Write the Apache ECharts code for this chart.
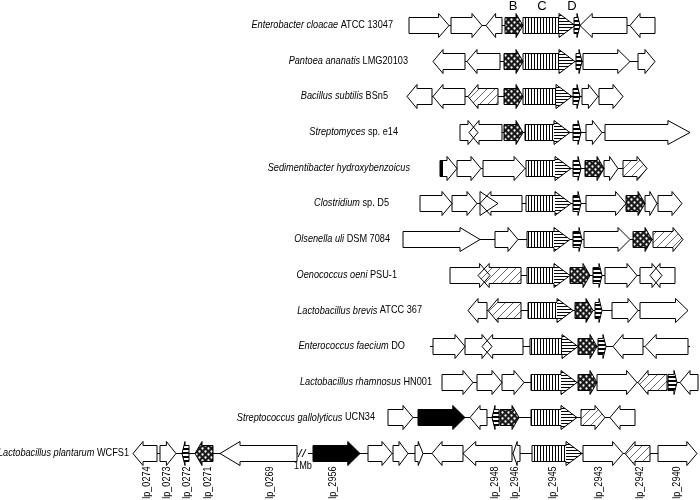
<!DOCTYPE html>
<html><head><meta charset="utf-8">
<script src="https://cdn.jsdelivr.net/npm/echarts@6/dist/echarts.min.js"></script>
<style>html,body{margin:0;padding:0;background:#fff}#c{width:700px;height:500px}</style>
</head><body><div id="c"></div>
<script>
// ---------- DATA ----------
const speciesItalic = ['Enterobacter cloacae','Pantoea ananatis','Bacillus subtilis','Streptomyces','Sedimentibacter hydroxybenzoicus','Clostridium','Olsenella uli','Oenococcus oeni','Lactobacillus brevis','Enterococcus faecium','Lactobacillus rhamnosus','Streptococcus gallolyticus','Lactobacillus plantarum'];
const speciesStrain = ['ATCC 13047','LMG20103','BSn5','sp. e14','','sp. D5','DSM 7084','PSU-1','ATCC 367','DO','HN001','UCN34','WCFS1'];
// genes per row: [start, end, direction (1 right / -1 left), kind]
// kinds: w white, B dotted, C striped, D small banded, H hatched, K black, E white with bar, T white triangle
const row0 = [[409,449,1,'w'],[451,482,1,'w'],[486,502,-1,'w'],[505,523,1,'B'],[523,575,1,'C'],[574,580,1,'D'],[580,627,-1,'w'],[630,655,-1,'w']];
const row1 = [[433,465,-1,'w'],[467,500,-1,'w'],[504,523,1,'B'],[523,575,1,'C'],[576,582,1,'D'],[583,630,1,'w'],[638,655,1,'w']];
const row2 = [[407,432,-1,'w'],[433,465,-1,'w'],[468,498,-1,'H'],[504,523,1,'B'],[523,572,1,'C'],[573,580,1,'D'],[582,598,1,'w'],[599,623,1,'w']];
const row3 = [[460,478,1,'w'],[469,502,-1,'w'],[504,523,1,'B'],[525,570,1,'C'],[573,581,1,'D'],[586,602,1,'w'],[605,690,1,'w']];
const row4 = [[440,457,1,'E'],[457,481,1,'w'],[483,525,1,'w'],[526,571,1,'C'],[573,581,1,'D'],[585,604,1,'B'],[604,618,1,'w'],[623,647,1,'H']];
const row5 = [[420,452,1,'w'],[452,477,1,'w'],[480,498,1,'T'],[480,522,-1,'w'],[526,571,1,'C'],[573,581,1,'D'],[586,626,1,'w'],[626,645,1,'B'],[645,657,1,'w'],[658,682,1,'w']];
const row6 = [[403,480,1,'w'],[495,518,1,'w'],[527,570,1,'C'],[573,582,1,'D'],[584,630,1,'w'],[633,652,1,'B'],[653,683,1,'H']];
const row7 = [[450,490,1,'w'],[478,521,-1,'H'],[527,570,1,'C'],[570,590,1,'B'],[593,602,1,'D'],[605,637,1,'w'],[640,662,1,'w'],[650,675,-1,'w']];
const row8 = [[468,487,-1,'w'],[488,521,-1,'H'],[528,573,1,'C'],[575,593,1,'B'],[595,602,1,'D'],[612,638,1,'w'],[640,688,1,'w']];
const row9 = [[433,465,1,'w'],[465,492,1,'w'],[482,523,-1,'w'],[530,578,1,'C'],[578,597,1,'B'],[598,606,1,'D'],[613,643,-1,'w'],[645,688,-1,'w']];
const row10 = [[442,473,1,'w'],[477,502,1,'w'],[502,524,1,'w'],[531,577,1,'C'],[578,597,1,'B'],[597,637,1,'w'],[638,667,-1,'H'],[668,677,1,'D'],[680,698,-1,'w']];
const row11 = [[388,413,1,'w'],[418,465,1,'K'],[470,487,-1,'w'],[492,499,-1,'D'],[500,519,1,'B'],[531,577,1,'C'],[581,605,1,'H'],[610,635,-1,'w']];
const row12 = [[133,157,-1,'w'],[160,176,1,'w'],[182,189,-1,'D'],[195,213,-1,'B'],[220,297,-1,'w'],[313,360,1,'K'],[368,392,1,'w'],[393,408,1,'w'],[415,423,1,'w'],[432,463,-1,'w'],[463,512,-1,'w'],[513,520,-1,'w'],[532,582,1,'C'],[583,623,1,'w'],[625,650,-1,'H'],[658,697,1,'w']];
const rows = [row0,row1,row2,row3,row4,row5,row6,row7,row8,row9,row10,row11,row12];
// chromosome backbone segments: [row, start, end]
const backbone = [[0,409,655],[1,433,655],[2,407,623],[3,460,690],[4,440,647],[5,420,682],[6,403,683],[7,450,675],[8,468,688],[9,430,690],[10,442,698],[11,388,635],[12,133,298],[12,308,697]];
const locusTags = ['lp_0274','lp_0273','lp_0272','lp_0271','lp_0269','lp_2956','lp_2948','lp_2946','lp_2945','lp_2943','lp_2942','lp_2940'];
const locusPos = [147,167,187,208,270,333,495,515,553,599,640,677];
const domainLetters = ['B','C','D'];
const domainPos = [513,542,572];
const breakRow = 12, breakPos = 303, breakLabel = '1Mb';
// layout: right end of each species label (axis units)
const labelEnd = [393,408,388,398,410,389,390,397,422,405,432,375,129];

// ---------- PATTERNS ----------
function mk(w,h,draw){const c=document.createElement('canvas');c.width=w;c.height=h;const g=c.getContext('2d');draw(g);return {image:c,repeat:'repeat'};}
const patB = mk(6,6,g=>{g.fillStyle='#1a1a1a';g.fillRect(0,0,6,6);g.fillStyle='#fff';g.beginPath();g.arc(1.5,1.5,1.15,0,7);g.fill();g.beginPath();g.arc(4.5,4.5,1.15,0,7);g.fill();});
const patV = mk(3,3,g=>{g.fillStyle='#fff';g.fillRect(0,0,3,3);g.fillStyle='#000';g.fillRect(0,0,1,3);});
const patHz = mk(3,3,g=>{g.fillStyle='#fff';g.fillRect(0,0,3,3);g.fillStyle='#000';g.fillRect(0,0,3,1);});
const patD = mk(4,4,g=>{g.fillStyle='#fff';g.fillRect(0,0,4,4);g.fillStyle='#000';g.fillRect(0,0,4,2);});
const patH = mk(8,8,g=>{g.fillStyle='#fff';g.fillRect(0,0,8,8);g.strokeStyle='#6a6a6a';g.lineWidth=1;g.beginPath();g.moveTo(-1,9);g.lineTo(9,-1);g.moveTo(-1,1);g.lineTo(1,-1);g.moveTo(7,9);g.lineTo(9,7);g.stroke();});
const fills = {w:'#fff',K:'#000',B:patB,C:patV,D:patD,H:patH,E:'#fff',T:'#fff'};

const geneData = [];
rows.forEach((r,ri)=>r.forEach(g=>geneData.push([g[0],g[1],ri,g[2],g[3]])));

const FONT = "'Liberation Sans',Arial,sans-serif";
const NARROW = 0.82;
const FS = 11.2;
const BH = 8, HH = 12;

function headLen(kind,len){
  if(kind==='C') return Math.min(16,len*0.5);
  if(kind==='B') return Math.min(7,len*0.5);
  if(kind==='D') return Math.min(3,len*0.5);
  if(kind==='T') return len;
  return Math.min(len*0.6, Math.max(10, len*0.26));
}
function arrowPts(x0,x1,y,dir,head){
  if(dir>0){const hb=x1-head;return [[x0,y-BH],[hb,y-BH],[hb,y-HH],[x1,y],[hb,y+HH],[hb,y+BH],[x0,y+BH]];}
  const hb=x0+head;return [[x1,y-BH],[hb,y-BH],[hb,y-HH],[x0,y],[hb,y+HH],[hb,y+BH],[x1,y+BH]];
}

const chart = echarts.init(document.getElementById('c'),null,{renderer:'canvas'});
chart.setOption({
  animation:false,
  grid:{left:0,right:0,top:7.2,bottom:29.1},
  xAxis:{type:'value',min:0,max:700,show:false},
  yAxis:{type:'category',inverse:true,show:false,data:speciesItalic.map((s,i)=>s+' '+speciesStrain[i])},
  series:[
    {type:'custom',data:backbone.map(b=>[b[1],b[2],b[0]]),z:1,
     renderItem:(p,api)=>{const a=api.coord([api.value(0),api.value(2)]),b=api.coord([api.value(1),api.value(2)]);
       return {type:'line',shape:{x1:a[0],y1:Math.round(a[1])+0.5,x2:b[0],y2:Math.round(a[1])+0.5},style:{stroke:'#000',lineWidth:1}};}},
    {type:'custom',data:geneData,z:2,
     renderItem:(p,api)=>{
       const g=geneData[p.dataIndex];
       const a=api.coord([g[0],g[2]]),b=api.coord([g[1],g[2]]);
       const y=Math.round(a[1])+0.5,x0=a[0],x1=b[0],dir=g[3],kind=g[4];
       const head=headLen(kind,x1-x0);
       const pts=arrowPts(x0,x1,y,dir,head);
       const ch=[{type:'polygon',z2:0,shape:{points:pts},style:{fill:fills[kind],stroke:null}}];
       if(kind==='C'){
         const hb=dir>0?x1-head:x0+head, tip=dir>0?x1:x0;
         ch.push({type:'polygon',z2:1,shape:{points:[[hb,y-HH],[tip,y],[hb,y+HH]]},style:{fill:patHz,stroke:null}});
       }
       if(kind==='E'){
         ch.push({type:'rect',z2:11,shape:{x:x0,y:y-BH,width:3,height:2*BH},style:{fill:'#000'}});
       }
       ch.push({type:'polygon',z2:10,shape:{points:pts},style:{fill:null,stroke:'#000',lineWidth:1}});
       return {type:'group',children:ch};
     }},
    {type:'custom',data:labelEnd.map((x,i)=>[x,i]),z:3,
     renderItem:(p,api)=>{const i=p.dataIndex;const c=api.coord([labelEnd[i],i]);
       const s=speciesStrain[i];
       return {type:'text',x:c[0],y:c[1],scaleX:NARROW,style:{text:'{i|'+speciesItalic[i]+'}'+(s?' '+s:''),rich:{i:{fontStyle:'italic',fontSize:FS,fontFamily:FONT,fill:'#000'}},fontSize:FS,fontFamily:FONT,fill:'#000',align:'right',verticalAlign:'middle'}};}},
    {type:'custom',data:locusPos.map(x=>[x,breakRow]),z:3,
     renderItem:(p,api)=>{const c=api.coord([locusPos[p.dataIndex],breakRow]);
       return {type:'text',x:c[0],y:c[1]+13.5,rotation:Math.PI/2,scaleX:NARROW,style:{text:locusTags[p.dataIndex],fontSize:11,fontFamily:FONT,fill:'#000',align:'right',verticalAlign:'middle'}};}},
    {type:'custom',data:domainPos.map(x=>[x,0]),z:3,
     renderItem:(p,api)=>{const c=api.coord([domainPos[p.dataIndex],0]);
       return {type:'text',x:c[0],y:c[1]-19,style:{text:domainLetters[p.dataIndex],fontSize:13,fontFamily:FONT,fill:'#000',align:'center',verticalAlign:'middle'}};}},
    {type:'custom',data:[[breakPos,breakRow]],z:3,
     renderItem:(p,api)=>{const c=api.coord([breakPos,breakRow]);const x=c[0],y=c[1];
       return {type:'group',children:[
         {type:'line',shape:{x1:x-5,y1:y+4,x2:x-1,y2:y-4},style:{stroke:'#000',lineWidth:1}},
         {type:'line',shape:{x1:x-1,y1:y+4,x2:x+3,y2:y-4},style:{stroke:'#000',lineWidth:1}},
         {type:'text',x:x,y:y+13,scaleX:NARROW,style:{text:breakLabel,fontSize:FS,fontFamily:FONT,fill:'#000',align:'center',verticalAlign:'middle'}}
       ]};}}
  ]
});
</script></body></html>
